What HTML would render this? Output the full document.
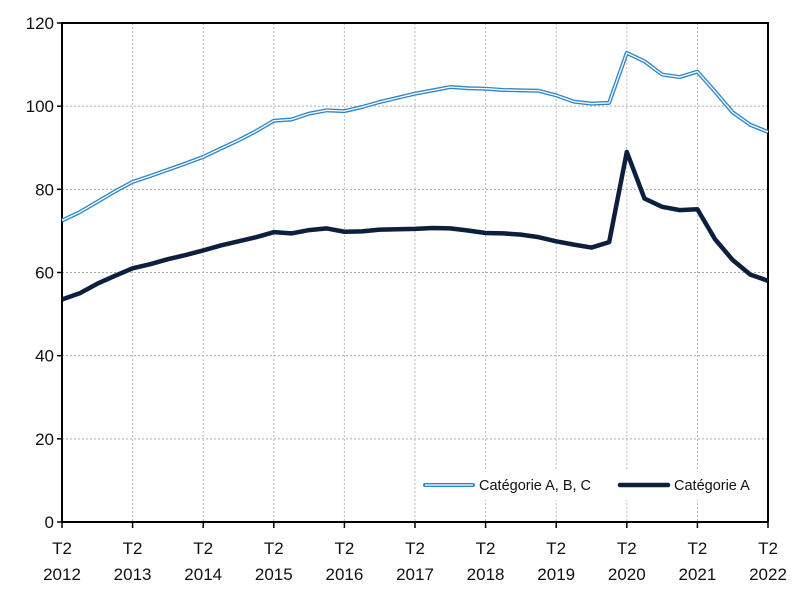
<!DOCTYPE html>
<html><head><meta charset="utf-8"><style>
body{margin:0;background:#fff;}
svg{display:block;font-family:"Liberation Sans",sans-serif;}
</style></head><body>
<svg id="chart" width="800" height="600"></svg>
<script>
const yTicks=[0,20,40,60,80,100,120];
const years=["2012","2013","2014","2015","2016","2017","2018","2019","2020","2021","2022"];
const seriesABC=[72.5,74.5,77,79.5,81.8,83.2,84.7,86.2,87.8,89.8,91.8,94,96.5,96.8,98.2,99,98.8,99.8,101,102,103,103.8,104.6,104.3,104.2,103.9,103.8,103.7,102.6,101.1,100.6,100.8,112.8,110.8,107.6,107,108.3,103.5,98.5,95.5,93.8];
const seriesA=[53.5,55,57.3,59.2,61,62,63.2,64.2,65.3,66.5,67.5,68.5,69.7,69.4,70.2,70.6,69.8,69.9,70.3,70.4,70.5,70.7,70.6,70.1,69.5,69.4,69.1,68.5,67.5,66.7,66,67.3,89,77.8,75.8,75,75.2,68,63,59.5,58];
const X0=62,X1=768,Y0=522,Y1=23;
const nQ=seriesA.length-1;
const xs=i=>X0+(X1-X0)*i/nQ;
const ys=v=>Y0-(Y0-Y1)*v/120;
const svg=document.getElementById('chart');
const NS='http://www.w3.org/2000/svg';
function mk(t,a,p){const e=document.createElementNS(NS,t);for(const k in a)e.setAttribute(k,a[k]);(p||svg).appendChild(e);return e;}
// grid
yTicks.forEach(v=>{if(v===0)return;
const l=mk('line',{x1:X0,x2:X1,y1:ys(v),y2:ys(v),stroke:'#aaa','stroke-dasharray':'2,2','stroke-width':1});

});
years.forEach((y,i)=>{const x=xs(i*4);if(i>0&&i<years.length-1){
const l=mk('line',{x1:x,x2:x,y1:Y1,y2:Y0,stroke:'#bbb','stroke-dasharray':'2,2','stroke-width':1});

}});
// frame
const fr=mk('path',{d:`M${X0},${Y0}V${Y1}H${X1}V${Y0}`,fill:'none',stroke:'#000','stroke-width':2});


const xa=mk('line',{x1:X0,x2:X1,y1:Y0,y2:Y0,stroke:'#000','stroke-width':2});


// y labels
yTicks.forEach(v=>{
const tk=mk('line',{x1:X0-5,x2:X0,y1:ys(v),y2:ys(v),stroke:'#000','stroke-width':1.5});


const t=mk('text',{x:X0-8,y:ys(v)+6,'text-anchor':'end','font-size':17,fill:'#111'});t.textContent=v;

});
// x labels
years.forEach((y,i)=>{const x=xs(i*4);
const tk=mk('line',{x1:x,x2:x,y1:Y0,y2:Y0+6,stroke:'#000','stroke-width':1.5});


const t1=mk('text',{x:x,y:554,'text-anchor':'middle','font-size':17,fill:'#111'});t1.textContent='T2';


const t2=mk('text',{x:x,y:580,'text-anchor':'middle','font-size':17,fill:'#111'});t2.textContent=y;

});
// lines
const pts=s=>s.map((v,i)=>`${xs(i)},${ys(v)}`).join(' ');
const l1=mk('polyline',{points:pts(seriesABC),fill:'none',stroke:'#2e86c8','stroke-width':4,'stroke-linejoin':'round'});


const l1b=mk('polyline',{points:pts(seriesABC),fill:'none',stroke:'#fff','stroke-width':1.3,'stroke-linejoin':'round'});


const l2=mk('polyline',{points:pts(seriesA),fill:'none',stroke:'#0c1f3d','stroke-width':4.5,'stroke-linejoin':'round'});


// legend
const lg=mk('g',{});


mk('rect',{x:418,y:470,width:348,height:30,fill:'#fff'},lg);
const s1=mk('line',{x1:425,x2:473,y1:485,y2:485,stroke:'#2e86c8','stroke-width':4,'stroke-linecap':'round'},lg);


mk('line',{x1:425,x2:473,y1:485,y2:485,stroke:'#fff','stroke-width':1.3},lg);
const tA=mk('text',{x:479,y:490,'font-size':14.5,fill:'#111'},lg);tA.textContent='Catégorie A, B, C';


const s2=mk('line',{x1:620,x2:668,y1:485,y2:485,stroke:'#0c1f3d','stroke-width':4.5,'stroke-linecap':'round'},lg);


const tB=mk('text',{x:674,y:490,'font-size':14.5,fill:'#111'},lg);tB.textContent='Catégorie A';


</script>
</body></html>
